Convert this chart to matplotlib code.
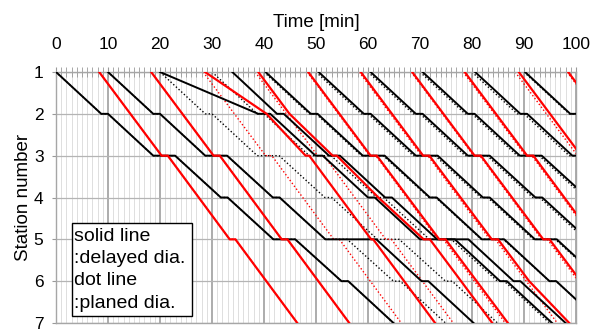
import matplotlib
matplotlib.use('Agg')
import matplotlib.pyplot as plt
from matplotlib.patches import Rectangle

plt.rcParams['font.family'] = ['Liberation Sans', 'DejaVu Sans']

# ---- planned diagram (dot line) ----
# local (black) : stops everywhere, waits at 3 and 5 for the express
local_stations = [1, 2, 2, 3, 3, 4, 4, 5, 5, 6, 6, 7]
local_offsets = [0.0, 8.7, 10.0, 18.7, 22.9, 31.7, 33.0, 41.8, 46.0, 54.9, 56.2, 64.9]
local_starts = [0, 10, 20, 30, 40, 50, 60, 70, 80, 90]

# express (red) : stops at 3 and 5 only
express_stations = [1, 2, 3, 3, 4, 5, 5, 6, 7]
express_offsets = [0.0, 6.0, 12.0, 13.2, 19.15, 25.1, 26.2, 32.15, 38.1]
express_starts = [8.3, 18.3, 28.3, 38.3, 48.3, 58.3, 68.3, 78.3, 88.3, 98.3]

# ---- delayed diagram (solid line) ----
delayed_local_times = [
    [0.0, 8.7, 10.0, 18.7, 22.9, 31.7, 33.0, 41.8, 46.0, 54.9, 56.2, 64.9],
    [10.0, 18.7, 20.0, 28.7, 32.9, 41.7, 43.0, 51.8, 61.6, 70.3, 71.6, 80.3],
    [20.0, 38.9, 41.2, 49.9, 51.3, 60.0, 61.3, 70.0, 76.7, 85.4, 86.7, 95.4],
    [33.9, 42.5, 43.8, 52.5, 54.6, 63.3, 64.6, 73.3, 79.3, 88.0, 89.3, 98.0],
    [40.3, 49.0, 50.3, 59.0, 63.2, 71.9, 73.2, 81.9, 86.2, 94.9, 96.2, 104.9],
    [50.5, 59.2, 60.5, 69.2, 73.4, 82.1, 83.4, 92.1, 96.3, 105.0, 106.3, 115.0],
    [60.5, 69.2, 70.5, 79.2, 83.4, 92.2, 93.5, 102.3, 106.5, 115.4, 116.7, 125.4],
    [70.5, 79.2, 80.5, 89.2, 93.4, 102.2, 103.5, 112.3, 116.5, 125.4, 126.7, 135.4],
    [80.6, 89.3, 90.6, 99.3, 103.5, 112.3, 113.6, 122.4, 126.6, 135.5, 136.8, 145.5],
    [90.2, 98.9, 100.2, 108.9, 113.1, 121.9, 123.2, 132.0, 136.2, 145.1, 146.4, 155.1],
]
delayed_express_times = [
    [8.3, 14.3, 20.3, 21.5, 27.45, 33.4, 34.5, 40.45, 46.4],
    [18.3, 24.3, 30.3, 31.5, 37.45, 43.4, 44.5, 50.45, 56.4],
    [28.65, 40.5, 48.0, 48.7, 54.65, 60.6, 61.0, 66.95, 72.9],
    [38.9, 44.9, 53.2, 54.0, 62.0, 70.7, 71.9, 77.9, 83.9],
    [48.5, 54.5, 60.5, 61.7, 67.7, 73.7, 74.9, 80.9, 86.9],
    [58.6, 64.6, 70.6, 71.8, 77.8, 83.8, 85.0, 91.0, 98.7],
    [68.5, 74.5, 80.5, 81.7, 87.7, 93.7, 94.9, 100.9, 106.8],
    [78.6, 84.6, 90.6, 91.8, 97.75, 103.7, 104.8, 110.75, 116.7],
    [89.0, 95.0, 101.0, 102.2, 108.15, 114.1, 115.2, 121.15, 127.1],
    [98.5, 104.5, 110.5, 111.7, 117.65, 123.6, 124.7, 130.65, 136.6],
]

fig = plt.figure(figsize=(6.06, 3.32), dpi=100)
ax = fig.add_axes([56 / 606, 1 - 323 / 332, 520 / 606, 251 / 332])

# grid
for m in range(0, 101):
    if m % 10 == 0:
        ax.axvline(m, color='#a6a6a6', lw=1.3, zorder=1)
    else:
        ax.axvline(m, color='#dedede', lw=0.7, zorder=0.5)
for s in range(1, 8):
    ax.axhline(s, color='#b4b4b4', lw=0.9, zorder=1)

# planned (dotted)
for t0 in local_starts:
    ax.plot([t0 + o for o in local_offsets], local_stations, color='black',
            lw=1.0, ls=(0, (1, 1.6)), zorder=2)
for t0 in express_starts:
    ax.plot([t0 + o for o in express_offsets], express_stations, color='red',
            lw=1.0, ls=(0, (1, 1.6)), zorder=2)

# delayed (solid)
for times in delayed_local_times:
    ax.plot(times, local_stations, color='black', lw=1.4, zorder=3)
for times in delayed_express_times:
    ax.plot(times, express_stations, color='#ff0000', lw=1.6, zorder=4)

ax.set_xlim(0, 100)
ax.set_ylim(7, 1)
ax.set_xticks(range(0, 101, 10))
ax.set_xticks(range(0, 101), minor=True)
ax.set_yticks(range(1, 8))
ax.xaxis.tick_top()
ax.xaxis.set_label_position('top')
ax.tick_params(axis='x', which='both', direction='inout', length=7, color='#999999',
               labelsize=12.5, pad=11)
ax.tick_params(axis='y', direction='out', length=3, color='#999999', labelsize=12.5, pad=6)
ax.set_xlabel('Time [min]', fontsize=13.5, labelpad=7)
ax.set_ylabel('Station number', fontsize=13.5, labelpad=1)
for sp in ax.spines.values():
    sp.set_color('#a6a6a6')
    sp.set_linewidth(1.0)

# legend box
box = Rectangle((72 / 606, 1 - 316 / 332), 120 / 606, 93 / 332, transform=fig.transFigure,
                facecolor='white', edgecolor='black', lw=1.0, zorder=10)
fig.patches.append(box)
legend_lines = ['solid line', ':delayed dia.', 'dot line', ':planed dia.']
legend_y = [236.5, 258.5, 280.5, 303.0]
for txt, yy in zip(legend_lines, legend_y):
    fig.text(74 / 606, 1 - yy / 332, txt, fontsize=14, va='center', ha='left', zorder=11)

fig.savefig('out.png', dpi=100)
